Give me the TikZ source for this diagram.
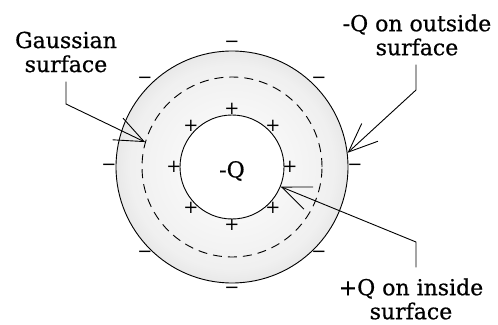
\documentclass[tikz,border=0pt]{standalone}
\usepackage{fontspec}
\setmainfont{DejaVu Serif}
\newfontfamily\lblfont[FakeBold=0.7]{DejaVu Serif}
\usetikzlibrary{arrows.meta,calc}
\pgfdeclareradialshading{ringshade}{\pgfpoint{0bp}{0bp}}{color(0bp)=(white); color(22bp)=(black!6); color(50bp)=(black!33)}
\begin{document}
\begin{tikzpicture}[x=1pt,y=-1pt,
  lbl/.style={font=\lblfont\fontsize{22}{24}\selectfont, align=center, inner sep=0pt},
  sgn/.style={font=\fontsize{18}{18}\selectfont, inner sep=0pt},
  lead/.style={line width=0.9pt, -{Straight Barb[length=29pt,width=24pt,line width=0.9pt]}},
  ringc/.style={circle, draw, line width=0.9pt, inner sep=0pt}]
\useasboundingbox (0,0) rectangle (498,324);
\coordinate (c) at (232,167);
\shade[shading=ringshade] (c) circle[radius=116pt];
\node[ringc, minimum size=232pt] (outer) at (c) {};
\node[ringc, minimum size=180pt, dash pattern=on 9pt off 6pt] (gauss) at (c) {};
\node[ringc, minimum size=104pt, fill=white] (inner) at (c) {};
\foreach \a [count=\i] in {0,45,...,315} {
  \node[sgn] (m\i) at ($(c)+(\a:123pt)$) {−};
  \node[sgn] (p\i) at ($(c)+(\a:58pt)$) {+};
}
\node[lbl] (mq) at (232,171) {-Q};
\node[lbl] (gs) at (66,52) {Gaussian\\surface};
\node[lbl] (qo) at (417,35) {-Q on outside\\surface};
\node[lbl] (qi) at (411,299) {+Q on inside\\surface};
\coordinate (gb) at (66,104);
\coordinate (ob) at (416,90);
\coordinate (ib) at (416,242);
\draw[lead, shorten <=9pt] (gs.south) -- (gb) -- (gauss.164);
\draw[lead, shorten <=9pt] (ob |- qo.south) -- (ob) -- (outer.7);
\draw[lead, shorten <=11pt] (ib |- qi.north) -- (ib) -- (inner.-22);
\end{tikzpicture}
\end{document}
